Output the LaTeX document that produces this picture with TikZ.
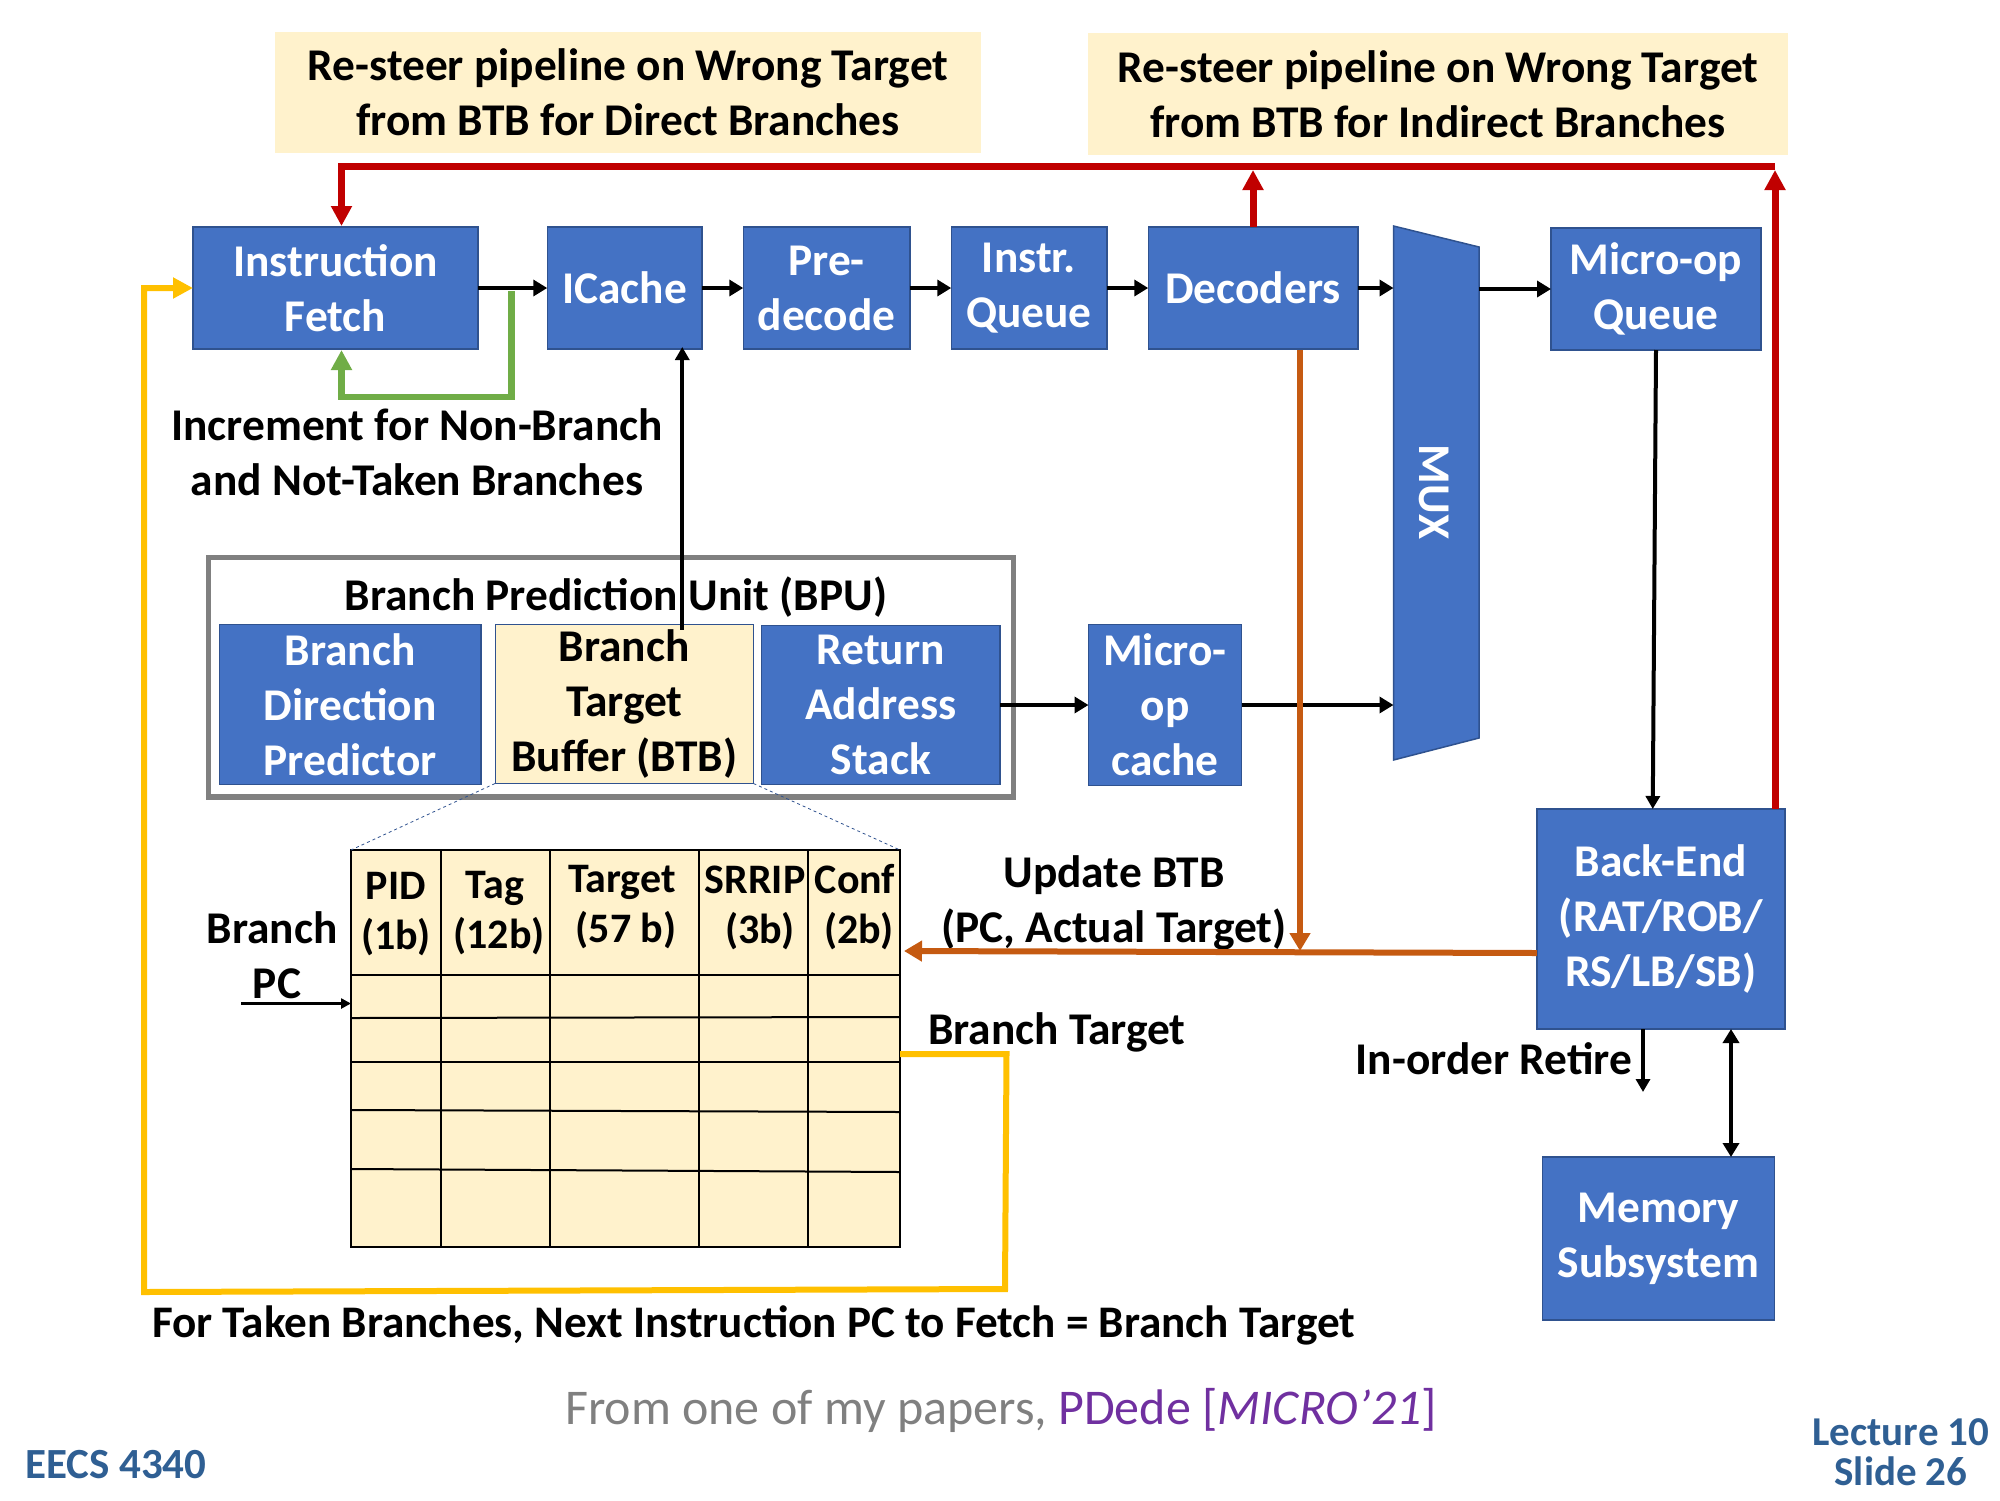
\documentclass[tikz,border=0pt]{standalone}
\usepackage{fontspec}
\setmainfont{Carlito}
\usetikzlibrary{arrows.meta}
\definecolor{boxblue}{HTML}{4472C4}
\definecolor{boxedge}{HTML}{2F528F}
\definecolor{notefill}{HTML}{FFF2CC}
\definecolor{resteer}{HTML}{C00000}
\definecolor{incgreen}{HTML}{70AD47}
\definecolor{takenyellow}{HTML}{FFC000}
\definecolor{updorange}{HTML}{C55A11}
\definecolor{footblue}{HTML}{2F5F93}
\definecolor{paperpurple}{HTML}{7030A0}
\begin{document}
\begin{tikzpicture}[
        x=1pt, y=-1pt,
        bigtext/.style={font=\fontsize{45.4}{55}\selectfont\bfseries, align=center, inner sep=0pt},
        headtext/.style={font=\fontsize{42}{50}\selectfont\bfseries, align=center, inner sep=0pt},
        bluebox/.style={bigtext, draw=boxedge, line width=1.5pt, fill=boxblue, text=white, outer sep=0pt},
        notebox/.style={bigtext, fill=notefill, outer sep=0pt},
        lowered/.style={execute at begin node={\rule{0pt}{#1}}},
        flow/.style={draw=black, line width=4.5pt, -{Triangle[length=14pt,width=16pt]}},
        thinflow/.style={draw=black, line width=4pt, -{Triangle[length=13pt,width=14pt]}},
        redflow/.style={draw=resteer, line width=7pt, -{Triangle[length=20pt,width=20pt]}},
        greenflow/.style={draw=incgreen, line width=6.5pt, -{Triangle[length=20pt,width=20pt]}},
        yellowflow/.style={draw=takenyellow, line width=6pt, -{Triangle[length=20pt,width=20pt]}},
        orangeflow/.style={draw=updorange, line width=6pt, -{Triangle[length=18pt,width=20pt]}},
        gridline/.style={draw=black, line width=2pt},
    ]
    \useasboundingbox (0,0) rectangle (2000,1500);

    \node[notebox, minimum width=705.5pt, minimum height=121pt] (notedirect) at (628,92.5) {Re-steer pipeline on Wrong Target\\from BTB for Direct Branches};
    \node[notebox, minimum width=700pt, minimum height=122pt] (noteindirect) at (1438,94) {Re-steer pipeline on Wrong Target\\from BTB for Indirect Branches};

    \node[bluebox, lowered=35pt, minimum width=285pt, minimum height=122pt] (fetch) at (335.5,288) {Instruction\\Fetch};
    \node[bluebox, minimum width=154.5pt, minimum height=122pt] (icache) at (624.5,288) {ICache};
    \node[bluebox, lowered=39.5pt, minimum width=166.5pt, minimum height=122pt] (predecode) at (826.5,288) {Pre-\\decode};
    \node[bluebox, lowered=45pt, minimum width=155.5pt, minimum height=122pt] (iqueue) at (1029,288) {Instr.\\Queue};
    \node[bluebox, minimum width=209.5pt, minimum height=122pt] (decoders) at (1253,288) {Decoders};
    \node[bluebox, lowered=45pt, minimum width=210pt, minimum height=122pt] (uopqueue) at (1656,289) {Micro-op\\Queue};

    \draw[boxedge, line width=1.5pt, fill=boxblue] (1393.5,226) -- (1479,247) -- (1479,738) -- (1393.5,760) -- cycle;
    \node[bigtext, text=white, rotate=-90] (muxlabel) at (1434,492) {MUX};
    \coordinate (muxin) at (1393.5,288);
    \coordinate (muxcache) at (1393.5,705);
    \coordinate (muxout) at (1479,289);

    \draw[draw=black!50, line width=5.5pt] (208.5,557.5) rectangle (1013.5,797);
    \node[bigtext] (bpulabel) at (616,597.5) {Branch Prediction Unit (BPU)};
    \node[bluebox, minimum width=261.5pt, minimum height=160pt] (bdp) at (350.25,704.5) {Branch\\Direction\\Predictor};
    \node[bigtext, lowered=45pt, draw=boxedge, line width=1pt, fill=notefill, outer sep=0pt, minimum width=258.5pt, minimum height=159pt] (btb) at (624.25,704) {Branch\\Target\\Buffer (BTB)};
    \node[bluebox, lowered=39pt, minimum width=238.5pt, minimum height=159pt] (ras) at (880.75,705) {Return\\Address\\Stack};
    \node[bluebox, minimum width=153pt, minimum height=161pt] (uopcache) at (1165,705) {Micro-\\op\\cache};

    \node[bluebox, lowered=45pt, minimum width=248pt, minimum height=220pt] (backend) at (1660.75,919) {Back-End\\(RAT/ROB/\\RS/LB/SB)};
    \node[bluebox, lowered=48pt, minimum width=232pt, minimum height=163pt] (memory) at (1658.5,1238.5) {Memory\\Subsystem};

    \node[draw=black, line width=2.5pt, fill=notefill, outer sep=0pt, minimum width=549pt, minimum height=397pt] (btbtable) at (625.5,1048.5) {};
    \foreach \colx in {441,549.6,699,808}
        \draw[gridline] (\colx,850) -- (\colx,1247);
    \foreach \rowl/\rowr in {975/975,1018/1017,1062/1062,1110/1112,1169/1172}
        \draw[gridline] (351,\rowl) -- (900,\rowr);

    \node[headtext] (pidhead) at (396,914) {PID\\(1b)};
    \node[headtext] (taghead) at (495,913) {Tag\\\hspace*{8pt}(12b)};
    \node[headtext] (targethead) at (622,907) {Target\\\hspace*{8pt}(57 b)};
    \node[headtext] (srriphead) at (755,908) {SRRIP\\\hspace*{10pt}(3b)};
    \node[headtext] (confhead) at (855,907) {Conf\\\hspace*{8pt}(2b)};

    \node[bigtext] (incrlabel) at (417,452) {Increment for Non-Branch\\and Not-Taken Branches};
    \node[bigtext] (pclabel) at (272,955) {Branch\\\hspace*{10pt}PC};
    \node[bigtext] (updlabel) at (1114,903) {Update BTB\\(PC, Actual Target)};
    \node[bigtext] (targetlabel) at (1057,1032) {Branch Target};
    \node[bigtext] (retirelabel) at (1494,1059) {In-order Retire};
    \node[font=\fontsize{45.2}{55}\selectfont\bfseries, inner sep=0pt, anchor=west] (takenlabel) at (152,1325) {For Taken Branches, Next Instruction PC to Fetch = Branch Target};

    \node[font=\fontsize{50}{55}\selectfont, text=black!50, inner sep=0pt, anchor=west] (paperlabel) at (565,1410) {From one of my papers, \textcolor{paperpurple}{PDede [\textit{MICRO’21}]}};
    \node[font=\fontsize{43}{46}\selectfont\bfseries, text=footblue, inner sep=0pt, anchor=west] (courselabel) at (25,1465) {EECS 4340};
    \node[font=\fontsize{41}{40}\selectfont\bfseries, text=footblue, inner sep=0pt, align=center] (slidelabel) at (1901,1452) {Lecture 10\\Slide 26};

    \draw[flow] (fetch.east) -- (icache.west);
    \draw[flow] (icache.east) -- (predecode.west);
    \draw[flow] (predecode.east) -- (iqueue.west);
    \draw[flow] (iqueue.east) -- (decoders.west);
    \draw[flow] (decoders.east) -- (muxin);
    \draw[flow] (muxout) -- (uopqueue.west);
    \draw[flow] (ras.east) -- (uopcache.west);
    \draw[flow] (uopcache.east) -- (muxcache);
    \draw[thinflow] (uopqueue.south) -- ([xshift=-8pt]backend.north);
    \draw[thinflow] ([xshift=58pt,yshift=-5pt]btb.north) -- ([xshift=58pt,yshift=2pt]icache.south -| btb.north);

    \coordinate (pcstart) at (241,1003.5);
    \draw[draw=black, line width=2.5pt, -{Triangle[length=10pt,width=10pt]}] (pcstart) -- (351,1003.5);
    \coordinate (retireend) at (1643,1092);
    \draw[thinflow] (1643,1029) -- (retireend);
    \draw[draw=black, line width=3.5pt, {Triangle[length=14pt,width=16pt]}-{Triangle[length=14pt,width=16pt]}] (1731,1029) -- (1731,1157);

    \draw[draw=boxedge, line width=0.8pt, dashed] (btb.south west) -- (btbtable.north west);
    \draw[draw=boxedge, line width=0.8pt, dashed] (btb.south east) -- (btbtable.north east);

    \coordinate (redcorner) at (1775,166);
    \draw[redflow] (1775,808.5) -- (1775,170);
    \draw[redflow] (decoders.north) -- (1253,170);
    \draw[redflow] (redcorner) -- (341.5,166) -- (341.5,226);

    \draw[greenflow] (511.5,291) -- (511.5,397) -- (341.5,397) -- (341.5,350);

    \draw[yellowflow] (900,1054) -- (1006.5,1054) -- (1005,1289) -- (144,1292) -- (144,288) -- (fetch.west);

    \draw[orangeflow] (1300,350) -- (1300,951);
    \draw[orangeflow] (backend.west |- 0,953) -- (904,951);
\end{tikzpicture}
\end{document}
